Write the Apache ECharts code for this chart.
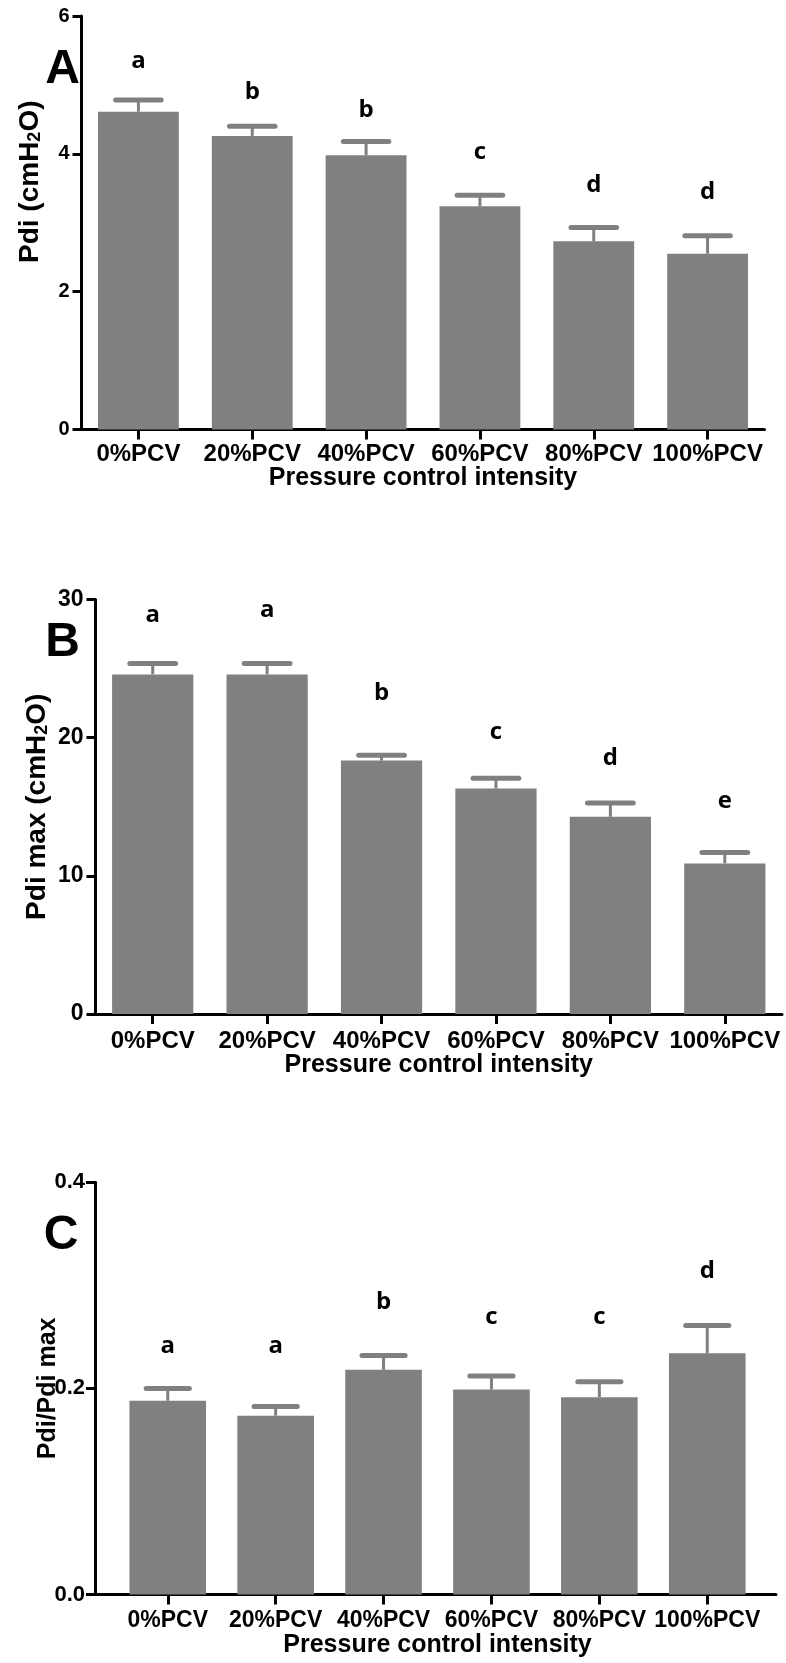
<!DOCTYPE html>
<html>
<head>
<meta charset="utf-8">
<script src="https://cdn.jsdelivr.net/npm/echarts@6/dist/echarts.min.js"></script>
<style>
  html, body { margin: 0; padding: 0; background: #fff; }
  #chart { width: 786px; height: 1663px; }
</style>
</head>
<body>
<div id="chart"></div>
<script>
// ---- data ----
const categories = ['0%PCV', '20%PCV', '40%PCV', '60%PCV', '80%PCV', '100%PCV'];

const pdiMean = [4.61, 4.26, 3.98, 3.24, 2.73, 2.55];
const pdiErr = [0.17, 0.14, 0.20, 0.16, 0.20, 0.26];
const pdiLetters = ['a', 'b', 'b', 'c', 'd', 'd'];
const pdiLetterY = [5.34, 4.90, 4.64, 4.02, 3.55, 3.44];

const pdiMaxMean = [24.58, 24.58, 18.34, 16.32, 14.27, 10.90];
const pdiMaxErr = [0.78, 0.78, 0.39, 0.74, 1.01, 0.79];
const pdiMaxLetters = ['a', 'a', 'b', 'c', 'd', 'e'];
const pdiMaxLetterY = [28.9, 29.2, 23.23, 20.41, 18.53, 15.42];

const ratioMean = [0.188, 0.1735, 0.218, 0.199, 0.1915, 0.234];
const ratioErr = [0.012, 0.009, 0.014, 0.013, 0.015, 0.027];
const ratioLetters = ['a', 'a', 'b', 'c', 'c', 'd'];
const ratioLetterY = [0.2414, 0.2414, 0.2834, 0.2692, 0.2692, 0.3134];

const yTicksA = [0, 6, 2];
const yTicksB = [0, 30, 10];
const yTicksC = [0, 0.4, 0.2];

const xTitle = 'Pressure control intensity';
// ---- styles ----
const GRAY = '#808080';
const FONT = '"Liberation Sans", Arial, sans-serif';
const LETTER_FONT = '"Open Sans", "Liberation Sans", sans-serif';

function errRender(params, api) {
  const x = api.value(0), m = api.value(1), e = api.value(2);
  const p0 = api.coord([x, m]);
  const p1 = api.coord([x, m + e]);
  const half = api.size([1, 0])[0] * 0.2;
  return {
    type: 'group',
    children: [
      { type: 'line', shape: { x1: p0[0], y1: p0[1], x2: p1[0], y2: p1[1] },
        style: { stroke: GRAY, lineWidth: 3 } },
      { type: 'line', shape: { x1: p1[0] - half, y1: p1[1], x2: p1[0] + half, y2: p1[1] },
        style: { stroke: GRAY, lineWidth: 5, lineCap: 'round' } }
    ]
  };
}

function catAxis(gridIndex, opts) {
  return Object.assign({
    type: 'category', gridIndex, data: categories,
    axisLine: { show: true, lineStyle: { color: '#000', width: 3 } },
    axisTick: { show: true, alignWithLabel: true, length: 10, lineStyle: { color: '#000', width: 3 } },
    axisLabel: { interval: 0, color: '#000', fontFamily: FONT, fontWeight: 'bold', fontSize: 24, margin: 13 },
    name: xTitle, nameLocation: 'middle', nameGap: 36, nameMoveOverlap: false,
    nameTextStyle: { color: '#000', fontFamily: FONT, fontWeight: 'bold', fontSize: 25 },
    splitLine: { show: false }
  }, opts || {});
}

function valAxis(gridIndex, ticks, name, opts) {
  return Object.assign({
    type: 'value', gridIndex, min: ticks[0], max: ticks[1], interval: ticks[2],
    axisLine: { show: true, lineStyle: { color: '#000', width: 3 } },
    axisTick: { show: true, length: 9, lineStyle: { color: '#000', width: 3 } },
    axisLabel: { color: '#000', fontFamily: FONT, fontWeight: 'bold', fontSize: 21, margin: 12 },
    splitLine: { show: false },
    name: name, nameLocation: 'middle', nameRotate: 90, nameGap: 37, nameMoveOverlap: false,
    nameTextStyle: {
      color: '#000', fontFamily: FONT, fontWeight: 'bold', fontSize: 28,
      rich: { sub: { fontFamily: FONT, fontWeight: 'bold', fontSize: 18, color: '#000', verticalAlign: 'bottom' } }
    }
  }, opts || {});
}

function seriesFor(xi, yi, mean, err, letters, letterY) {
  return [
    { type: 'bar', xAxisIndex: xi, yAxisIndex: yi, barWidth: '71%',
      itemStyle: { color: GRAY }, data: mean, silent: true, z: 2 },
    { type: 'custom', xAxisIndex: xi, yAxisIndex: yi, renderItem: errRender, z: 3,
      data: mean.map((m, i) => [i, m, err[i]]), silent: true },
    { type: 'scatter', xAxisIndex: xi, yAxisIndex: yi, symbolSize: 1,
      itemStyle: { color: 'rgba(0,0,0,0)' }, silent: true, z: 4,
      data: letterY.map((v, i) => [i, v]),
      labelLayout: { hideOverlap: false },
      label: { show: true, position: 'inside', color: '#000', opacity: 1,
        fontFamily: LETTER_FONT, fontWeight: 700, fontSize: 24,
        formatter: p => letters[p.dataIndex] } }
  ];
}

const chart = echarts.init(document.getElementById('chart'), null, { renderer: 'canvas' });

const option = {
  animation: false,
  backgroundColor: '#fff',
  grid: [
    { left: 81.5, top: 16, width: 683, height: 413.5 },
    { left: 95.5, top: 599.5, width: 686.5, height: 414.5 },
    { left: 113.8, top: 1182.3, width: 647.4, height: 412.2 },
    { left: 95, top: 1182.3, width: 681, height: 412.2 }
  ],
  xAxis: [
    catAxis(0),
    catAxis(1, { axisLabel: { interval: 0, color: '#000', fontFamily: FONT, fontWeight: 'bold', fontSize: 24, margin: 15 }, nameGap: 39 }),
    catAxis(2, { axisLine: { show: false },
      axisLabel: { interval: 0, color: '#000', fontFamily: FONT, fontWeight: 'bold', fontSize: 23, margin: 15 }, nameGap: 38 }),
    { type: 'category', gridIndex: 3, data: [''],
      axisLine: { show: true, lineStyle: { color: '#000', width: 3 } },
      axisTick: { show: false }, axisLabel: { show: false } }
  ],
  yAxis: [
    valAxis(0, yTicksA, 'Pdi (cmH{sub|2}O)', {
      axisLabel: { color: '#000', fontFamily: FONT, fontWeight: 'bold', fontSize: 20, margin: 12 },
      nameTextStyle: { color: '#000', fontFamily: FONT, fontWeight: 'bold', fontSize: 28, padding: [0, 0, 0, 82],
        rich: { sub: { fontFamily: FONT, fontWeight: 'bold', fontSize: 18, color: '#000', verticalAlign: 'bottom' } } }
    }),
    valAxis(1, yTicksB, 'Pdi max (cmH{sub|2}O)', {
      nameGap: 44,
      axisLabel: { color: '#000', fontFamily: FONT, fontWeight: 'bold', fontSize: 23, margin: 12 }
    }),
    { type: 'value', gridIndex: 2, min: yTicksC[0], max: yTicksC[1], interval: yTicksC[2], show: false },
    valAxis(3, yTicksC, 'Pdi/Pdi max', {
      nameGap: 34,
      axisLabel: { color: '#000', fontFamily: FONT, fontWeight: 'bold', fontSize: 22, margin: 10,
        formatter: v => v.toFixed(1) },
      nameTextStyle: { color: '#000', fontFamily: FONT, fontWeight: 'bold', fontSize: 25 }
    })
  ],
  graphic: [
    { type: 'text', x: 62.5, y: 70, style: { text: 'A', fill: '#000', font: 'bold 48px "Liberation Sans", Arial, sans-serif', textAlign: 'center', textVerticalAlign: 'middle' } },
    { type: 'text', x: 62.5, y: 643, style: { text: 'B', fill: '#000', font: 'bold 48px "Liberation Sans", Arial, sans-serif', textAlign: 'center', textVerticalAlign: 'middle' } },
    { type: 'text', x: 61, y: 1236, style: { text: 'C', fill: '#000', font: 'bold 48px "Liberation Sans", Arial, sans-serif', textAlign: 'center', textVerticalAlign: 'middle' } }
  ],
  series: [].concat(
    seriesFor(0, 0, pdiMean, pdiErr, pdiLetters, pdiLetterY),
    seriesFor(1, 1, pdiMaxMean, pdiMaxErr, pdiMaxLetters, pdiMaxLetterY),
    seriesFor(2, 2, ratioMean, ratioErr, ratioLetters, ratioLetterY)
  )
};

chart.setOption(option);
</script>
</body>
</html>
